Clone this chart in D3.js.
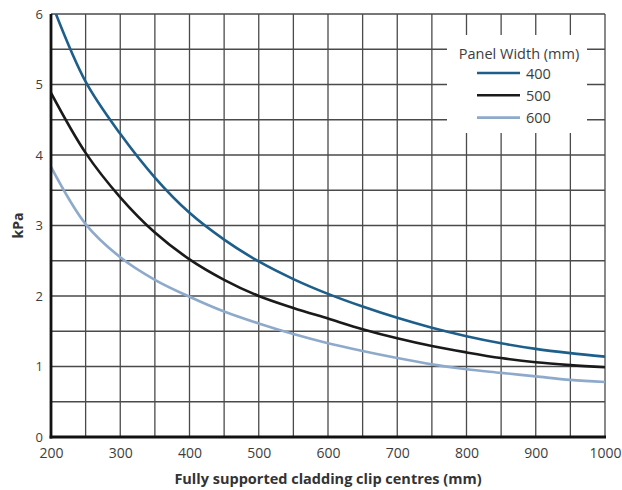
<!DOCTYPE html>
<html>
<head>
<meta charset="utf-8">
<script src="https://cdn.jsdelivr.net/npm/d3@7"></script>
<style>
html,body{margin:0;padding:0;background:#fff;}
svg text{font-family:"Open Sans","Noto Sans",sans-serif;}
</style>
</head>
<body>
<svg id="chart" width="622" height="490"></svg>
<script>
const clipCentres = [200,250,300,350,400,450,500,550,600,650,700,750,800,850,900,950,1000];
const width400 = [6.18,5.04,4.30,3.68,3.18,2.80,2.49,2.24,2.03,1.85,1.69,1.55,1.43,1.33,1.25,1.19,1.14];
const width500 = [4.88,4.03,3.40,2.90,2.52,2.23,2.00,1.83,1.68,1.53,1.40,1.29,1.20,1.12,1.06,1.02,0.99];
const width600 = [3.83,3.02,2.55,2.23,1.99,1.78,1.61,1.46,1.33,1.22,1.12,1.03,0.96,0.91,0.86,0.81,0.78];
const seriesNames = ["400","500","600"];
const seriesColors = ["#1d5f8a","#1a1a1a","#8eaacb"];
const xTicks = [200,300,400,500,600,700,800,900,1000];
const yTicks = [0,1,2,3,4,5,6];
const xTitle = "Fully supported cladding clip centres (mm)";
const yTitle = "kPa";
const legendTitle = "Panel Width (mm)";

(function(){
const svg = d3.select("#chart");
const pL = 51, pR = 605, pT = 14, pB = 437;
const x = d3.scaleLinear().domain([200,1000]).range([pL,pR]);
const y = d3.scaleLinear().domain([0,6]).range([pB,pT]);

const grid = svg.append("g").attr("stroke","#4a4a4a").attr("stroke-width",1.3);
d3.range(200,1001,50).forEach(v=>{
  grid.append("line").attr("x1",x(v)).attr("x2",x(v)).attr("y1",pT).attr("y2",pB);
});
d3.range(0,6.01,0.5).forEach(v=>{
  grid.append("line").attr("x1",pL).attr("x2",pR).attr("y1",y(v)).attr("y2",y(v));
});

// legend box (covers grid)
svg.append("rect").attr("x",447).attr("y",35).attr("width",140).attr("height",98).attr("fill","#fff");

// curves
svg.append("defs").append("clipPath").attr("id","clip")
  .append("rect").attr("x",pL).attr("y",pT).attr("width",pR-pL).attr("height",pB-pT);
const data = [width400,width500,width600];
const line = d3.line().x((d,i)=>x(clipCentres[i])).y(d=>y(d)).curve(d3.curveCatmullRom.alpha(0.5));
data.forEach((s,k)=>{
  svg.append("path").attr("d",line(s)).attr("fill","none")
    .attr("stroke",seriesColors[k]).attr("stroke-width",2.6).attr("clip-path","url(#clip)");
});

// axes lines
svg.append("line").attr("x1",pL).attr("x2",pL).attr("y1",pT).attr("y2",pB+1.5)
  .attr("stroke","#111").attr("stroke-width",2.8);
svg.append("line").attr("x1",pL-1.4).attr("x2",pR+1).attr("y1",pB).attr("y2",pB)
  .attr("stroke","#111").attr("stroke-width",2.8);

// tick labels
const xAxis = svg.append("g").attr("transform",`translate(0,${pB})`)
  .call(d3.axisBottom(x).tickValues(xTicks).tickSize(0).tickPadding(11).tickFormat(d3.format("d")));
xAxis.select(".domain").remove();
xAxis.selectAll("text").attr("font-size",14).attr("fill","#3d3d3d")
  .attr("font-family","'Open Sans','Noto Sans',sans-serif");

const yAxis = svg.append("g").attr("transform",`translate(${pL},0)`)
  .call(d3.axisLeft(y).tickValues(yTicks).tickSize(0).tickPadding(8).tickFormat(d3.format("d")));
yAxis.select(".domain").remove();
yAxis.selectAll("text").attr("font-size",13).attr("fill","#3d3d3d")
  .attr("font-family","'Open Sans','Noto Sans',sans-serif");

// titles
svg.append("text").attr("x",(pL+pR)/2).attr("y",484).attr("text-anchor","middle")
  .attr("font-size",14.5).attr("font-weight","bold").attr("fill","#333").text(xTitle);
svg.append("text").attr("transform",`translate(23,${(pT+pB)/2}) rotate(-90)`)
  .attr("text-anchor","middle").attr("font-size",14).attr("font-weight","bold").attr("fill","#333").text(yTitle);

// legend
svg.append("text").attr("x",519).attr("y",58.8).attr("text-anchor","middle")
  .attr("font-size",14.5).attr("fill","#3d3d3d").text(legendTitle);
seriesNames.forEach((n,k)=>{
  const yy = 73 + k*22.3;
  svg.append("line").attr("x1",477).attr("x2",520).attr("y1",yy).attr("y2",yy)
    .attr("stroke",seriesColors[k]).attr("stroke-width",2.6);
  svg.append("text").attr("x",526).attr("y",yy+5.5).attr("font-size",14.5).attr("fill","#3d3d3d").text(n);
});
})();
</script>
</body>
</html>
